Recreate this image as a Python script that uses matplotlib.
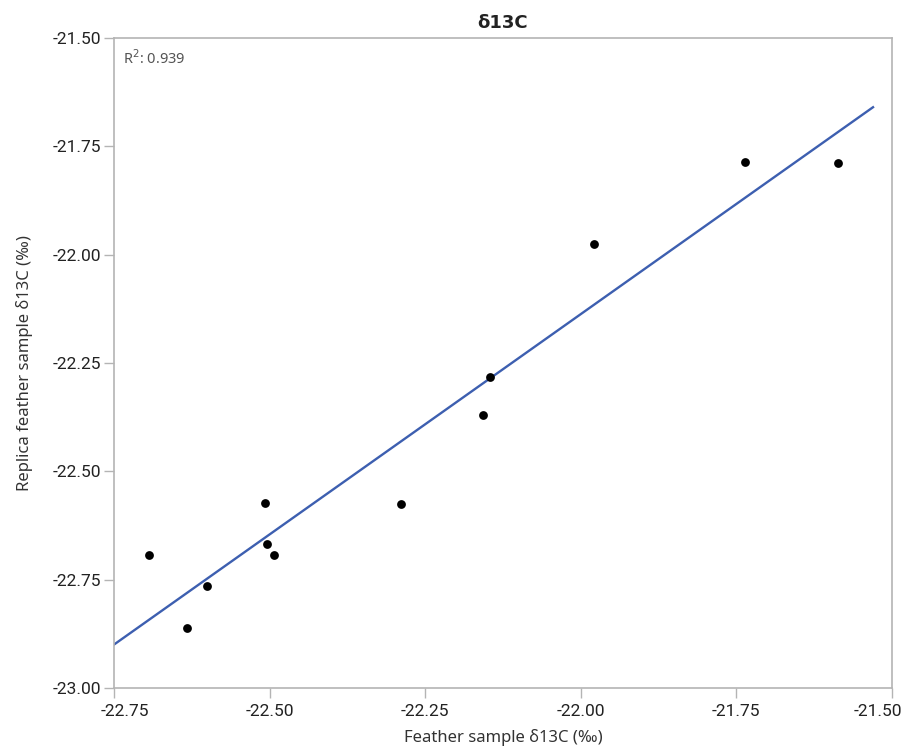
import numpy as np
import matplotlib
matplotlib.use("Agg")
import matplotlib.pyplot as plt
import matplotlib.transforms as mtransforms

plt.rcParams['font.family'] = ['Noto Sans', 'DejaVu Sans']

# paired delta-13C measurements (per mil)
feather_d13c = [-22.694, -22.632, -22.601, -22.507, -22.504, -22.493,
                -22.288, -22.157, -22.146, -21.979, -21.735, -21.587]
replica_d13c = [-22.693, -22.862, -22.765, -22.572, -22.668, -22.692,
                -22.575, -22.369, -22.282, -21.976, -21.785, -21.789]

x_ticks = [-22.75, -22.50, -22.25, -22.00, -21.75, -21.50]
y_ticks = [-23.00, -22.75, -22.50, -22.25, -22.00, -21.75, -21.50]
fit_span = [-22.75, -21.53]

x = np.array(feather_d13c)
y = np.array(replica_d13c)
slope, intercept = np.polyfit(x, y, 1)
r2 = np.corrcoef(x, y)[0, 1] ** 2

fig = plt.figure(figsize=(9.11, 7.56), dpi=100)
ax = fig.add_axes([0.1251, 0.09, 0.9788 - 0.1251, 0.9497 - 0.09])

xf = np.array(fit_span)
ax.plot(xf, slope * xf + intercept, color='#3d5fb0', lw=1.7, zorder=2)
ax.scatter(x, y, s=40, color='black', zorder=3, linewidths=0)

ax.set_xlim(-22.75, -21.50)
ax.set_ylim(-23.00, -21.50)
ax.set_xticks(x_ticks)
ax.set_yticks(y_ticks)
ax.set_xticklabels([f"{v:.2f}" for v in x_ticks], family='Roboto')
ax.set_yticklabels([f"{v:.2f}" for v in y_ticks], family='Roboto')

grey = '#b4b4b4'
for s in ax.spines.values():
    s.set_color(grey)
    s.set_linewidth(1.2)
ax.tick_params(direction='out', length=7.5, width=1, color=grey,
               labelsize=12.5, labelcolor='#222222')
ax.tick_params(axis='x', pad=4)
ax.tick_params(axis='y', pad=2)

# keep the end labels of the x axis inside the frame
xlabels = ax.get_xticklabels()
for lbl, dx in ((xlabels[0], 8 / 72), (xlabels[-1], -10 / 72)):
    lbl.set_transform(lbl.get_transform() +
                      mtransforms.ScaledTranslation(dx, 0, fig.dpi_scale_trans))

ax.set_xlabel("Feather sample δ13C (‰)", fontsize=12, color='#333333', labelpad=7)
ax.set_ylabel("Replica feather sample δ13C (‰)", fontsize=12, color='#333333', labelpad=14)
ax.set_title("δ13C", fontsize=13, fontweight='bold', family='DejaVu Sans',
             color='#222222', pad=7)

ax.text(0.012, 0.982, f"R$^2$: {r2:.3f}", transform=ax.transAxes,
        fontsize=10.5, color='#555555', ha='left', va='top')

fig.savefig("out.png", dpi=100)
